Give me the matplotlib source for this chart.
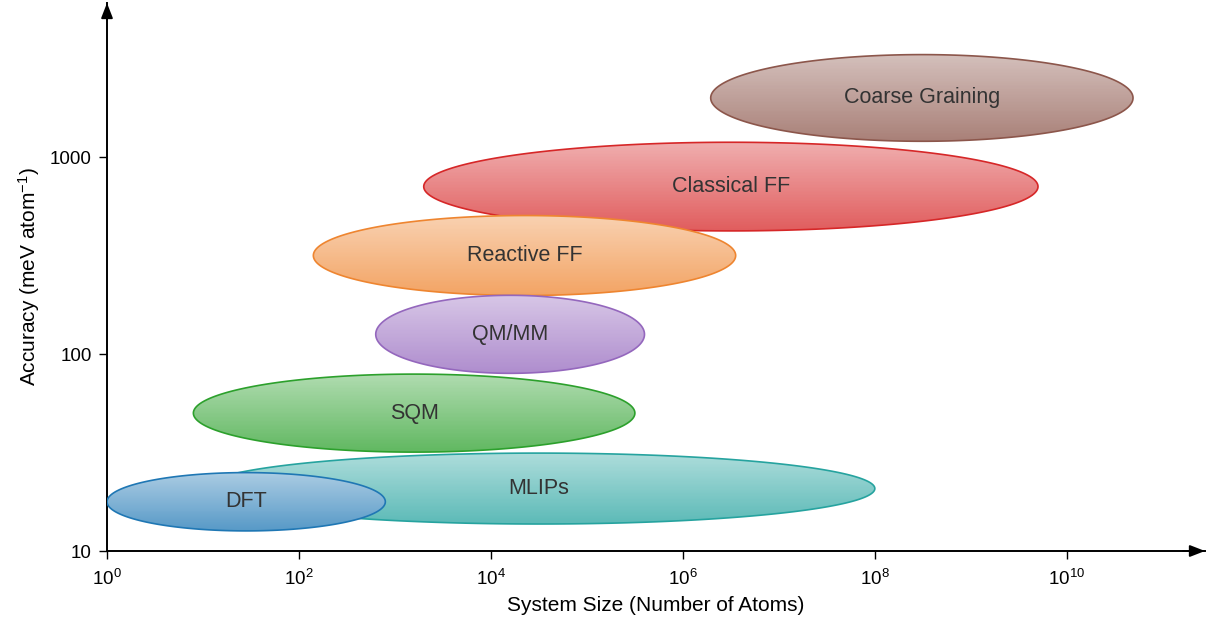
import numpy as np
import matplotlib
matplotlib.use("Agg")
import matplotlib.pyplot as plt
from matplotlib.patches import Polygon
from matplotlib.colors import LinearSegmentedColormap, to_rgb

plt.rcParams['font.family'] = ['Liberation Sans', 'DejaVu Sans']
plt.rcParams['mathtext.fontset'] = 'custom'
plt.rcParams['mathtext.rm'] = 'Liberation Sans'
plt.rcParams['mathtext.it'] = 'Liberation Sans:italic'
plt.rcParams['mathtext.default'] = 'regular'

# ---- data (log10 units) ----
methods = ["Coarse Graining", "Classical FF", "Reactive FF", "QM/MM", "SQM", "MLIPs", "DFT"]
log_size_center = [8.49, 6.50, 4.35, 4.20, 3.20, 4.50, 1.45]
log_size_halfwidth = [2.20, 3.20, 2.20, 1.40, 2.30, 3.50, 1.45]
log_acc_center = [3.30, 2.85, 2.50, 2.10, 1.70, 1.317, 1.25]
log_acc_halfheight = [0.220, 0.225, 0.203, 0.198, 0.198, 0.180, 0.148]
colors = ["#8c564b", "#d62728", "#ee8530", "#9467bd", "#2ca02c", "#26a39f", "#1f77b4"]

xtick_exps = [0, 2, 4, 6, 8, 10]
ytick_vals = [10, 100, 1000]


def mix(c, f):
    r = np.array(to_rgb(c))
    return tuple(r + (1 - r) * f)


fig = plt.figure(figsize=(12.11, 6.28), dpi=100)
ax = fig.add_axes([107 / 1211, 77 / 628, 1098 / 1211, 548 / 628])
ax.set_xscale('log')
ax.set_yscale('log')
ax.set_xlim(1, 10 ** 11.44)
ax.set_ylim(10, 10 ** 3.782)

t = np.linspace(0, 2 * np.pi, 400)
for i, (m, cx, a, cy, b, col) in enumerate(zip(methods, log_size_center, log_size_halfwidth,
                                                log_acc_center, log_acc_halfheight, colors)):
    xs = 10 ** (cx + a * np.cos(t))
    ys = 10 ** (cy + b * np.sin(t))
    poly = Polygon(np.column_stack([xs, ys]), closed=True, facecolor='none',
                   edgecolor=col, linewidth=1.2, zorder=2 * i + 1.5)
    ax.add_patch(poly)
    cmap = LinearSegmentedColormap.from_list(m, [mix(col, 0.25), mix(col, 0.62)])
    n = 60
    X = np.array([10 ** (cx - a), 10 ** (cx + a)])
    Y = 10 ** np.linspace(cy - b, cy + b, n + 1)
    C = np.linspace(0, 1, n).reshape(n, 1)
    mesh = ax.pcolormesh(X, Y, C, cmap=cmap, vmin=0, vmax=1, shading='flat',
                         zorder=2 * i + 1, antialiased=False)
    mesh.set_clip_path(poly)
    ax.text(10 ** cx, 10 ** cy, m, ha='center', va='center', fontsize=15.5,
            color='#333333', zorder=50)

for s in ['top', 'right']:
    ax.spines[s].set_visible(False)
ax.spines['left'].set_linewidth(1.4)
ax.spines['bottom'].set_linewidth(1.4)

ax.annotate('', xy=(1.0, 0), xytext=(0.98, 0), xycoords='axes fraction',
            arrowprops=dict(arrowstyle='-|>,head_length=0.9,head_width=0.35',
                            color='black', lw=1.4, shrinkA=0, shrinkB=0), annotation_clip=False)
ax.annotate('', xy=(0, 1.0), xytext=(0, 0.97), xycoords='axes fraction',
            arrowprops=dict(arrowstyle='-|>,head_length=0.9,head_width=0.35',
                            color='black', lw=1.4, shrinkA=0, shrinkB=0), annotation_clip=False)

ax.set_xticks([10.0 ** e for e in xtick_exps])
ax.set_xticklabels([r'$10^{%d}$' % e for e in xtick_exps])
ax.set_yticks(ytick_vals)
ax.set_yticklabels([str(v) for v in ytick_vals])
ax.minorticks_off()
ax.tick_params(axis='both', direction='out', length=6, width=1, labelsize=13.5)
ax.tick_params(axis='x', pad=7)
ax.tick_params(axis='y', pad=5)

ax.set_xlabel('System Size (Number of Atoms)', fontsize=15, labelpad=5)
ax.set_ylabel(r'Accuracy (meV atom$^{-1}$)', fontsize=15, labelpad=6)

fig.savefig('out.png', dpi=100)
